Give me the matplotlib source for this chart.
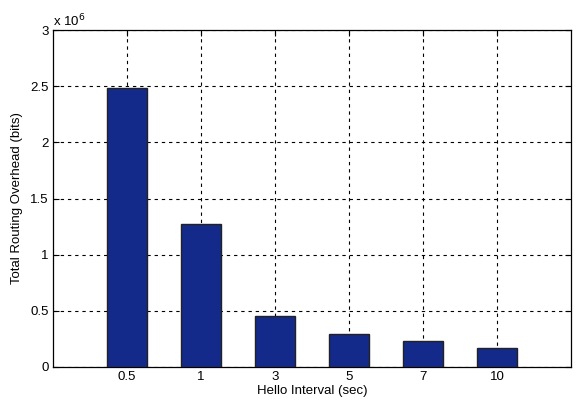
import numpy as np
import matplotlib.pyplot as plt

plt.rcParams["font.family"] = ["Liberation Sans", "DejaVu Sans"]
plt.rcParams["font.size"] = 9.5

intervals = ["0.5", "1", "3", "5", "7", "10"]
overhead = [2.48e6, 1.27e6, 0.45e6, 0.29e6, 0.23e6, 0.17e6]

fig = plt.figure(figsize=(5.81, 4.04), dpi=100)
ax = fig.add_axes([0.0912, 0.0916, 0.8916, 0.834])

x = np.arange(1, len(intervals) + 1)
ax.bar(x, overhead, width=0.53, color="#142a8a", edgecolor="#222222",
       linewidth=1.0, zorder=3)

ax.set_xlim(0, 7)
ax.set_ylim(0, 3e6)
ax.set_xticks(x)
ax.set_xticklabels(intervals)
ax.set_yticks(np.arange(0, 3.01e6, 0.5e6))
ax.set_yticklabels(["0", "0.5", "1", "1.5", "2", "2.5", "3"])
ax.tick_params(direction="in", length=4, width=0.8, top=True, right=True, pad=3)
ax.grid(True, linestyle=(0, (3, 3.5)), color="black", linewidth=0.8, zorder=0)
ax.set_axisbelow(True)
for s in ax.spines.values():
    s.set_linewidth(0.9)

ax.text(0.0, 1.003, r"x 10$^{6}$", transform=ax.transAxes,
        ha="left", va="bottom", fontsize=9.5)

ax.set_xlabel("Hello Interval (sec)", labelpad=1)
ax.set_ylabel("Total Routing Overhead (bits)", labelpad=5)

fig.savefig("out.png", dpi=100)
